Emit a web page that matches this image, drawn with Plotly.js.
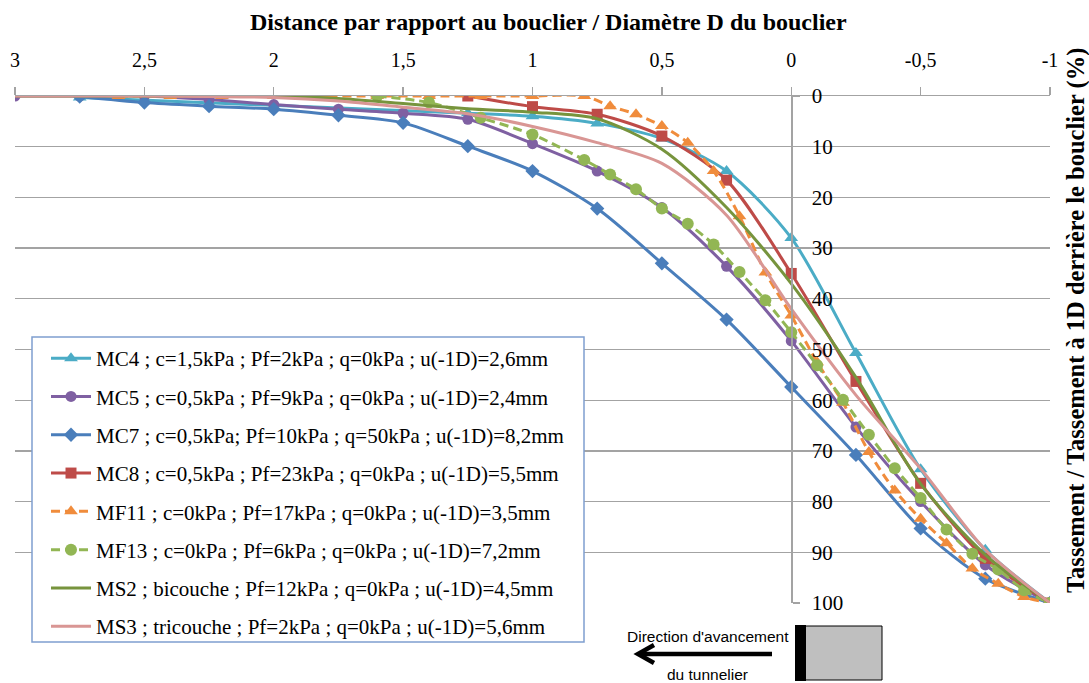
<!DOCTYPE html>
<html>
<head>
<meta charset="utf-8">
<script src="https://cdn.plot.ly/plotly-3.0.1.min.js"></script>
<style>
html,body{margin:0;padding:0;background:#fff;}
#chart{width:1089px;height:683px;}
</style>
</head>
<body>
<div id="chart"></div>
<script>
// ---- data (x = distance / D, y = settlement / settlement at 1D behind shield, %) ----
const seriesNames = [
  "MC4 ; c=1,5kPa ; Pf=2kPa ; q=0kPa ; u(-1D)=2,6mm",
  "MC5 ; c=0,5kPa ; Pf=9kPa ; q=0kPa ; u(-1D)=2,4mm",
  "MC7 ; c=0,5kPa; Pf=10kPa ; q=50kPa ; u(-1D)=8,2mm",
  "MC8 ; c=0,5kPa ; Pf=23kPa ; q=0kPa ; u(-1D)=5,5mm",
  "MF11 ; c=0kPa ; Pf=17kPa ; q=0kPa ; u(-1D)=3,5mm",
  "MF13 ; c=0kPa ; Pf=6kPa ; q=0kPa ; u(-1D)=7,2mm",
  "MS2 ; bicouche ; Pf=12kPa ; q=0kPa ; u(-1D)=4,5mm",
  "MS3 ; tricouche ; Pf=2kPa ; q=0kPa ; u(-1D)=5,6mm"
];

const mc4X = [2.75, 1.25, 1, 0.75, 0.5, 0.25, 0, -0.25, -0.5, -0.75, -1];
const mc4Y = [0.3, 3.4, 4.0, 5.4, 8.4, 14.8, 28.0, 50.7, 73.6, 89.5, 100];

const mc5X = [3, 2.75, 2.5, 2.25, 2, 1.75, 1.5, 1.25, 1, 0.75, 0.5, 0.25, 0, -0.25, -0.5, -0.75, -1];
const mc5Y = [0, 0, 0, 0.7, 1.7, 2.6, 3.4, 4.6, 9.4, 14.8, 22.0, 33.6, 48.3, 65.3, 80.0, 92.5, 100];

const mc7X = [2.75, 2.5, 2.25, 2, 1.75, 1.5, 1.25, 1, 0.75, 0.5, 0.25, 0, -0.25, -0.5, -0.75, -1];
const mc7Y = [0.1, 1.3, 2.0, 2.6, 3.8, 5.3, 9.9, 14.8, 22.2, 33.0, 44.1, 57.4, 70.8, 85.3, 95.2, 100];

const mc8X = [1.25, 1, 0.75, 0.5, 0.25, 0, -0.25, -0.5, -0.75, -1];
const mc8Y = [0, 2.1, 3.6, 7.9, 16.6, 35.0, 56.3, 76.4, 91.2, 100];

const mf11X = [2.6, 2.4, 2.2, 2.0, 1.8, 1.6, 1.4, 1.2, 1.0, 0.8, 0.7, 0.6, 0.5, 0.4, 0.3, 0.2, 0.1, 0, -0.1, -0.2, -0.3, -0.4, -0.5, -0.6, -0.7, -0.8, -0.9, -1];
const mf11Y = [0, 0, 0, 0, 0, 0, 0, 0, 0, 0, 2.0, 3.6, 5.9, 9.2, 14.8, 23.7, 34.8, 43.3, 52.5, 60.5, 70.2, 77.8, 83.4, 88.2, 93.2, 96.2, 98.8, 100];

const mf13X = [1.6, 1.4, 1.2, 1.0, 0.8, 0.7, 0.6, 0.5, 0.4, 0.3, 0.2, 0.1, 0, -0.1, -0.2, -0.3, -0.4, -0.5, -0.6, -0.7, -0.8, -0.9, -1];
const mf13Y = [0, 1.3, 4.3, 7.6, 12.6, 15.5, 18.4, 22.2, 25.2, 29.3, 34.7, 40.3, 46.6, 53.1, 59.9, 66.8, 73.4, 79.3, 85.5, 90.3, 93.4, 97.5, 100];

const ms2X = [3, 2.75, 2.5, 2.25, 2, 1.75, 1.5, 1.25, 1, 0.75, 0.5, 0.25, 0, -0.25, -0.5, -0.75, -1];
const ms2Y = [0, 0, 0, 0, 0, 0.5, 1.5, 2.5, 3.2, 4.5, 10.5, 22.0, 37.0, 55.5, 76.5, 90.5, 100];

const ms3X = [3, 2.75, 2.5, 2.25, 2, 1.75, 1.5, 1.25, 1, 0.75, 0.5, 0.25, 0, -0.25, -0.5, -0.75, -1];
const ms3Y = [0, 0, 0, 0.1, 0.3, 1.0, 2.2, 3.5, 6.0, 9.2, 13.3, 23.5, 42.0, 59.0, 73.5, 89.5, 100];

const xTickVals = [3, 2.5, 2, 1.5, 1, 0.5, 0, -0.5, -1];
const xTickText = ["3", "2,5", "2", "1,5", "1", "0,5", "0", "-0,5", "-1"];
const yTickVals = [0, 10, 20, 30, 40, 50, 60, 70, 80, 90, 100];

// ---- styling ----
const SERIF = "Liberation Serif, Times New Roman, serif";
const SANS = "Liberation Sans, Arial, sans-serif";
const colors = ["#4BACC6", "#7F60A2", "#4A7EBB", "#BE4B48", "#F08C3C", "#92B654", "#77943D", "#D99694"];

function tr(name, x, y, color, symbol, size, dash, withMarkers) {
  return {
    type: "scatter",
    mode: withMarkers ? "lines+markers" : "lines",
    name: name, x: x, y: y,
    legendgroup: name,
    line: {color: color, width: 3, shape: "spline", smoothing: 0.8, dash: dash || "solid"},
    marker: {color: color, symbol: symbol, size: size},
    hoverinfo: "skip"
  };
}

const data = [
  tr(seriesNames[0], mc4X, mc4Y, colors[0], "triangle-up", 12, null, true),
  tr(seriesNames[1], mc5X, mc5Y, colors[1], "circle", 11, null, true),
  tr(seriesNames[2], mc7X, mc7Y, colors[2], "diamond", 11, null, true),
  tr(seriesNames[3], mc8X, mc8Y, colors[3], "square", 11, null, true),
  tr(seriesNames[4], mf11X, mf11Y, colors[4], "triangle-up", 12, "9px,5px", true),
  tr(seriesNames[5], mf13X, mf13Y, colors[5], "circle", 12, "9px,5px", true),
  tr(seriesNames[6], ms2X, ms2Y, colors[6], "circle", 1, null, false),
  tr(seriesNames[7], ms3X, ms3Y, colors[7], "circle", 1, null, false)
];

// plot area in pixels
const PL = 15, PR = 1050, PT = 96, PB = 603;
function px(x) { return (x - PL) / (PR - PL); }
function py(y) { return (PB - y) / (PB - PT); }

const GRID = "#A3A3A3";

const layout = {
  width: 1089, height: 683,
  margin: {l: PL, r: 1089 - PR, t: PT, b: 683 - PB, pad: 0},
  paper_bgcolor: "#fff", plot_bgcolor: "#fff",
  showlegend: true,
  font: {family: SERIF, color: "#000"},
  xaxis: {
    range: [3, -1], autorange: false, side: "top",
    tickvals: xTickVals, ticktext: xTickText,
    ticks: "outside", ticklen: 8, tickcolor: GRID, tickwidth: 1.3,
    ticklabelstandoff: 12,
    showline: true, linecolor: GRID, linewidth: 1.3,
    showgrid: false, zeroline: false,
    tickfont: {family: SERIF, size: 20, color: "#000"}
  },
  yaxis: {
    range: [100, 0], autorange: false,
    anchor: "free", position: 0.75, side: "right",
    tickvals: yTickVals,
    ticks: "outside", ticklen: 7, tickcolor: GRID, tickwidth: 1.3,
    ticklabelstandoff: 8,
    showline: true, linecolor: GRID, linewidth: 1.3,
    showgrid: true, gridcolor: GRID, gridwidth: 1.3,
    zeroline: false,
    tickfont: {family: SERIF, size: 21, color: "#000"}
  },
  legend: {
    x: px(46), y: py(338), xanchor: "left", yanchor: "top",
    bgcolor: "rgba(0,0,0,0)", borderwidth: 0,
    font: {family: SERIF, size: 21, color: "#000"},
    tracegroupgap: 8, itemwidth: 40,
    traceorder: "grouped"
  },
  annotations: [
    {xref: "paper", yref: "paper", x: px(548), y: py(22),
     text: "<b>Distance par rapport au bouclier / Diamètre D du bouclier</b>",
     showarrow: false, font: {family: SERIF, size: 24, color: "#000"},
     xanchor: "center", yanchor: "middle"},
    {xref: "paper", yref: "paper", x: px(1076), y: py(321), textangle: -90,
     text: "<b>Tassement / Tassement à 1D derrière le bouclier (%)</b>",
     showarrow: false, font: {family: SERIF, size: 24.5, color: "#000"},
     xanchor: "center", yanchor: "middle"},
    {xref: "paper", yref: "paper", x: px(708), y: py(636),
     text: "Direction d'avancement", showarrow: false,
     font: {family: SANS, size: 15.5, color: "#000"},
     xanchor: "center", yanchor: "middle"},
    {xref: "paper", yref: "paper", x: px(707), y: py(674),
     text: "du tunnelier", showarrow: false,
     font: {family: SANS, size: 15.5, color: "#000"},
     xanchor: "center", yanchor: "middle"}
  ],
  shapes: [
    // legend frame (white box over the plot)
    {type: "rect", xref: "paper", yref: "paper", layer: "above",
     x0: px(32), y0: py(337), x1: px(584), y1: py(642),
     fillcolor: "#fff", line: {color: "#7F9FCF", width: 1.5}},
    // arrow shaft
    {type: "line", xref: "paper", yref: "paper", x0: px(640), y0: py(654), x1: px(772), y1: py(654),
     line: {color: "#000", width: 4.5}},
    // arrow head
    {type: "path", xref: "paper", yref: "paper",
     path: "M " + px(654) + "," + py(645) + " L " + px(638) + "," + py(654) + " L " + px(654) + "," + py(663),
     line: {color: "#000", width: 4.5}},
    // tunnel shield box
    {type: "rect", xref: "paper", yref: "paper", x0: px(800), y0: py(626), x1: px(882), y1: py(680),
     fillcolor: "#BFBFBF", line: {color: "#000", width: 1}},
    {type: "rect", xref: "paper", yref: "paper", x0: px(795), y0: py(625), x1: px(806), y1: py(681),
     fillcolor: "#000", line: {color: "#000", width: 0}}
  ]
};

Plotly.newPlot("chart", data, layout, {displayModeBar: false, staticPlot: true});
</script>
</body>
</html>
